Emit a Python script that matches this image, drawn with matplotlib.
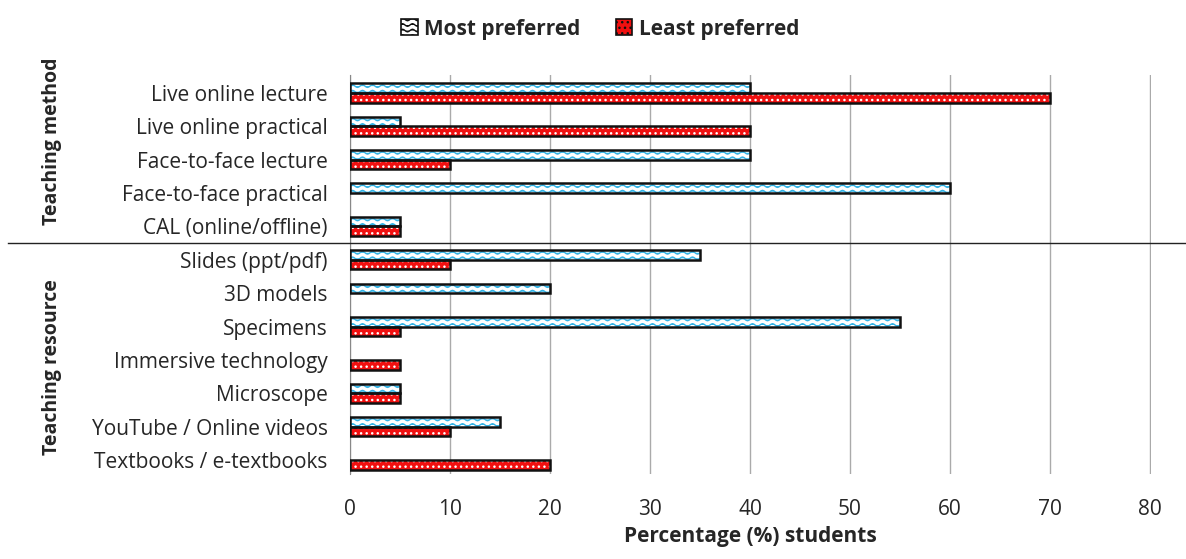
import matplotlib
matplotlib.use('Agg')
import matplotlib.pyplot as plt
import matplotlib.transforms as mtransforms
import matplotlib.hatch as mhatch
from matplotlib.path import Path
from matplotlib.patches import Patch
import numpy as np

categories = ['Live online lecture', 'Live online practical', 'Face-to-face lecture',
              'Face-to-face practical', 'CAL (online/offline)', 'Slides (ppt/pdf)',
              '3D models', 'Specimens', 'Immersive technology', 'Microscope',
              'YouTube / Online videos', 'Textbooks / e-textbooks']
most_preferred = [40, 5, 40, 60, 5, 35, 20, 55, 0, 5, 15, 0]
least_preferred = [70, 40, 10, 0, 5, 10, 0, 5, 5, 5, 10, 20]
x_ticks = [0, 10, 20, 30, 40, 50, 60, 70, 80]


class WaveHatch(mhatch.HatchPatternBase):
    """'-' drawn as wavy lines, like the office 'wave' pattern fill"""

    def __init__(self, hatch, density):
        self.num_lines = int(hatch.count('-') * density)
        self.n = 81
        self.num_vertices = self.num_lines * self.n

    def set_vertices_and_codes(self, vertices, codes):
        steps, step = np.linspace(0.0, 1.0, self.num_lines, False, retstep=True)
        steps += step / 2.
        xs = np.linspace(0.0, 1.0, self.n)
        for i, s in enumerate(steps):
            sl = slice(i * self.n, (i + 1) * self.n)
            vertices[sl, 0] = xs
            vertices[sl, 1] = s + 0.013 * np.sin(2 * np.pi * 10 * xs)
            codes[sl] = Path.LINETO
            codes[i * self.n] = Path.MOVETO


try:
    mhatch._hatch_types[0] = WaveHatch
except Exception as e:
    print(e)

plt.rcParams['font.family'] = ['Open Sans', 'DejaVu Sans']
plt.rcParams['hatch.linewidth'] = 1.0

fig = plt.figure(figsize=(11.86, 5.59), dpi=100)
ax = fig.add_axes([350 / 1186, 1 - 474 / 559, 801 / 1186, 399 / 559])

y = np.arange(len(categories))
h = 0.29
blue = '#35b4e6'
red = '#f01010'
txt = '#262626'


def hbar(vals, offset, face, hatch, hcol):
    # hatch layer, then black outline on top
    ax.barh(y + offset, vals, height=h, color=face, edgecolor=hcol,
            hatch=hatch, linewidth=0, zorder=3)
    for yi, v in zip(y, vals):
        if v > 0:
            ax.barh(yi + offset, v, height=h, fill=False, edgecolor='#111111',
                    linewidth=1.8, zorder=4)


hbar(most_preferred, -h / 2, 'white', '---', blue)
hbar(least_preferred, h / 2, red, '...', 'white')

ax.set_ylim(11.42, -0.54)
ax.set_xlim(0, 80.1)
ax.set_xticks(x_ticks)
ax.set_yticks(y)
ax.set_yticklabels(categories, fontsize=15, color=txt)
ax.tick_params(axis='x', length=0, pad=18, labelsize=15, labelcolor=txt)
ax.tick_params(axis='y', length=0, pad=16)
ax.grid(axis='x', color='#aaaaaa', linewidth=1, zorder=0)
for s in ['top', 'right', 'bottom']:
    ax.spines[s].set_visible(False)
ax.spines['left'].set_color('#888888')

# divider between groups
trans = mtransforms.blended_transform_factory(fig.transFigure, ax.transData)
ax.plot([8 / 1186, 1.0], [4.5, 4.5], color='#222222', linewidth=1,
        transform=trans, clip_on=False, zorder=5)

fig.text(52 / 1186, 1 - 141 / 559, 'Teaching method', rotation=90, ha='center',
         va='center', fontsize=14, fontweight='bold', color=txt)
fig.text(52 / 1186, 1 - 367 / 559, 'Teaching resource', rotation=90, ha='center',
         va='center', fontsize=14, fontweight='bold', color=txt)
fig.text(750 / 1186, 1 - 542 / 559, 'Percentage (%) students', ha='center',
         va='baseline', fontsize=15, fontweight='bold', color=txt)

handles = [Patch(facecolor='white', edgecolor=blue, hatch='---', linewidth=0),
           Patch(facecolor=red, edgecolor='white', hatch='...', linewidth=0)]
leg = fig.legend(handles, ['Most preferred', 'Least preferred'], loc='center',
                 bbox_to_anchor=(600 / 1186, 1 - 29 / 559), ncol=2, frameon=False,
                 handlelength=0.8, handleheight=0.8, handletextpad=0.3,
                 columnspacing=1.7, prop={'weight': 'bold', 'size': 15})
for t in leg.get_texts():
    t.set_color(txt)
for p in leg.get_patches():
    p.set_linewidth(1.2)
    p.set_edgecolor('#111111')

fig.savefig('out.png', dpi=100)
